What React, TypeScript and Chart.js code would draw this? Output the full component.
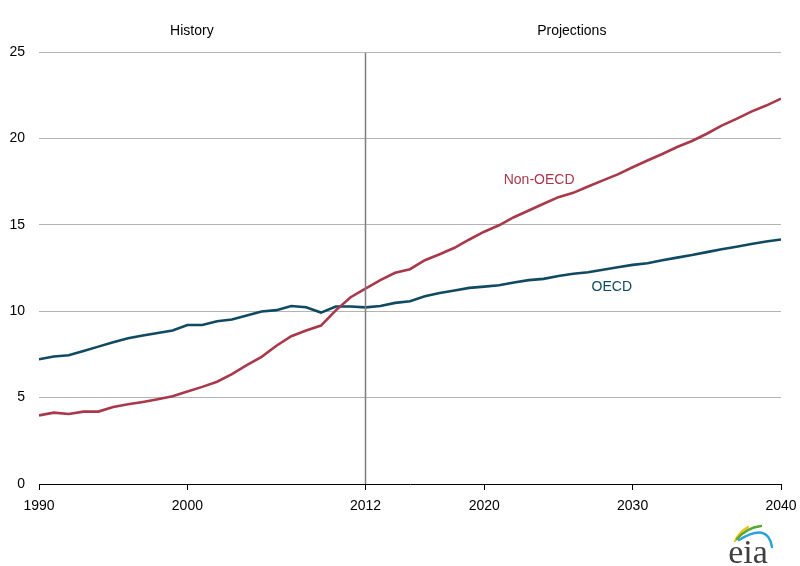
import React, { useEffect, useRef } from "react";
import { Chart, registerables } from "chart.js";

Chart.register(...registerables);

const years: number[] = [];
for (let y = 1990; y <= 2040; y++) years.push(y);

const oecd = [
  7.22, 7.38, 7.45, 7.7, 7.95, 8.2, 8.43, 8.59, 8.74, 8.88,
  9.2, 9.2, 9.42, 9.52, 9.75, 9.98, 10.06, 10.3, 10.23, 9.92,
  10.27, 10.27, 10.22, 10.3, 10.48, 10.58, 10.86, 11.05, 11.2, 11.35,
  11.42, 11.5, 11.66, 11.8, 11.87, 12.04, 12.17, 12.25, 12.4, 12.54,
  12.68, 12.77, 12.95, 13.1, 13.25, 13.42, 13.58, 13.73, 13.89, 14.03,
  14.15,
];

const nonOecd = [
  3.97, 4.13, 4.05, 4.19, 4.19, 4.46, 4.61, 4.75, 4.9, 5.08,
  5.35, 5.62, 5.92, 6.36, 6.88, 7.36, 8.0, 8.55, 8.88, 9.17,
  10.05, 10.81, 11.3, 11.8, 12.22, 12.43, 12.95, 13.3, 13.67, 14.15,
  14.6, 14.97, 15.44, 15.83, 16.22, 16.6, 16.85, 17.22, 17.57, 17.92,
  18.33, 18.72, 19.1, 19.5, 19.85, 20.27, 20.74, 21.13, 21.55, 21.9,
  22.3,
];

const xTicks = [1990, 2000, 2012, 2020, 2030, 2040];
const yTicks = [0, 5, 10, 15, 20, 25];
const dividerYear = 2012;
const periodLabels = ["History", "Projections"];
const periodLabelYears = [2000.3, 2025.9];
const seriesLabels = ["Non-OECD", "OECD"];
const seriesLabelPos: [number, number][] = [
  [2023.7, 17.6],
  [2028.6, 11.4],
];

const RED = "#a8384a";
const BLUE = "#104a62";
const FONT = "'Liberation Sans', Arial, sans-serif";

const overlayPlugin = {
  id: "overlay",
  afterDatasetsDraw(chart: any) {
    const { ctx, chartArea, scales } = chart;
    const xs = scales.x;
    const ys = scales.y;
    ctx.save();
    // divider line
    const dx = Math.round(xs.getPixelForValue(dividerYear)) + 0.5;
    ctx.strokeStyle = "#7f7f7f";
    ctx.lineWidth = 1.5;
    ctx.beginPath();
    ctx.moveTo(dx, chartArea.top + 1);
    ctx.lineTo(dx, chartArea.bottom);
    ctx.stroke();

    // period labels
    ctx.fillStyle = "#000";
    ctx.font = `14px ${FONT}`;
    ctx.textAlign = "center";
    ctx.textBaseline = "middle";
    periodLabels.forEach((t, i) => {
      ctx.fillText(t, xs.getPixelForValue(periodLabelYears[i]), 31);
    });

    // series labels
    const cols = [RED, BLUE];
    seriesLabels.forEach((t, i) => {
      ctx.fillStyle = cols[i];
      ctx.fillText(
        t,
        xs.getPixelForValue(seriesLabelPos[i][0]),
        ys.getPixelForValue(seriesLabelPos[i][1])
      );
    });

    // eia logo
    ctx.lineCap = "round";
    ctx.lineWidth = 2.4;
    ctx.strokeStyle = "#f2c417";
    ctx.beginPath();
    ctx.moveTo(735, 541);
    ctx.quadraticCurveTo(739, 532, 748, 527);
    ctx.stroke();
    ctx.strokeStyle = "#5aa834";
    ctx.beginPath();
    ctx.moveTo(737, 539);
    ctx.quadraticCurveTo(746, 528, 761, 526);
    ctx.stroke();
    ctx.strokeStyle = "#29a3dc";
    ctx.beginPath();
    ctx.moveTo(739, 540);
    ctx.quadraticCurveTo(768, 522, 772, 547);
    ctx.stroke();
    ctx.fillStyle = "#404040";
    ctx.font = `34px 'Liberation Serif', 'DejaVu Serif', serif`;
    ctx.textAlign = "center";
    ctx.textBaseline = "alphabetic";
    ctx.fillText("eia", 748, 563);
    ctx.restore();
  },
};

export default function App() {
  const ref = useRef<HTMLCanvasElement | null>(null);
  useEffect(() => {
    if (!ref.current) return;
    const chart = new Chart(ref.current, {
      type: "line",
      data: {
        labels: years,
        datasets: [
          {
            label: "Non-OECD",
            data: years.map((y, i) => ({ x: y, y: nonOecd[i] })),
            borderColor: RED,
            borderWidth: 2.6,
            pointRadius: 0,
            tension: 0,
            fill: false,
          },
          {
            label: "OECD",
            data: years.map((y, i) => ({ x: y, y: oecd[i] })),
            borderColor: BLUE,
            borderWidth: 2.6,
            pointRadius: 0,
            tension: 0,
            fill: false,
          },
        ],
      },
      options: {
        animation: false,
        responsive: false,
        maintainAspectRatio: false,
        layout: { padding: { top: 52, right: 19, left: 0, bottom: 0 } },
        plugins: {
          legend: { display: false },
          tooltip: { enabled: false },
        },
        scales: {
          x: {
            type: "linear",
            min: 1990,
            max: 2040,
            afterBuildTicks: (s: any) => {
              s.ticks = xTicks.map((v) => ({ value: v }));
            },
            afterFit: (s: any) => {
              s.height = 566 - 484;
              s.paddingLeft = 0;
              s.paddingRight = 0;
            },
            grid: {
              drawOnChartArea: false,
              drawTicks: true,
              tickLength: 6,
              color: "#000",
            },
            border: { display: true, color: "#000", width: 1 },
            ticks: {
              autoSkip: false,
              maxRotation: 0,
              padding: 8,
              color: "#000",
              font: { family: FONT, size: 14 },
              callback: (v: any) => String(v),
            },
          },
          y: {
            min: 0,
            max: 25,
            afterBuildTicks: (s: any) => {
              s.ticks = yTicks.map((v) => ({ value: v }));
            },
            afterFit: (s: any) => {
              s.width = 39;
              s.paddingTop = 0;
              s.paddingBottom = 0;
            },
            grid: {
              drawTicks: false,
              color: (c: any) => (c.tick && c.tick.value === 0 ? "rgba(0,0,0,0)" : "#b3b3b3"),
              lineWidth: 1,
            },
            border: { display: false },
            ticks: {
              padding: 14,
              color: "#000",
              font: { family: FONT, size: 14 },
            },
          },
        },
      },
      plugins: [overlayPlugin],
    } as any);
    return () => chart.destroy();
  }, []);
  return (
    <div style={{ position: "fixed", left: 0, top: 0, width: 800, height: 566, background: "#fff" }}>
      <canvas ref={ref} width={800} height={566} style={{ width: 800, height: 566 }} />
    </div>
  );
}
